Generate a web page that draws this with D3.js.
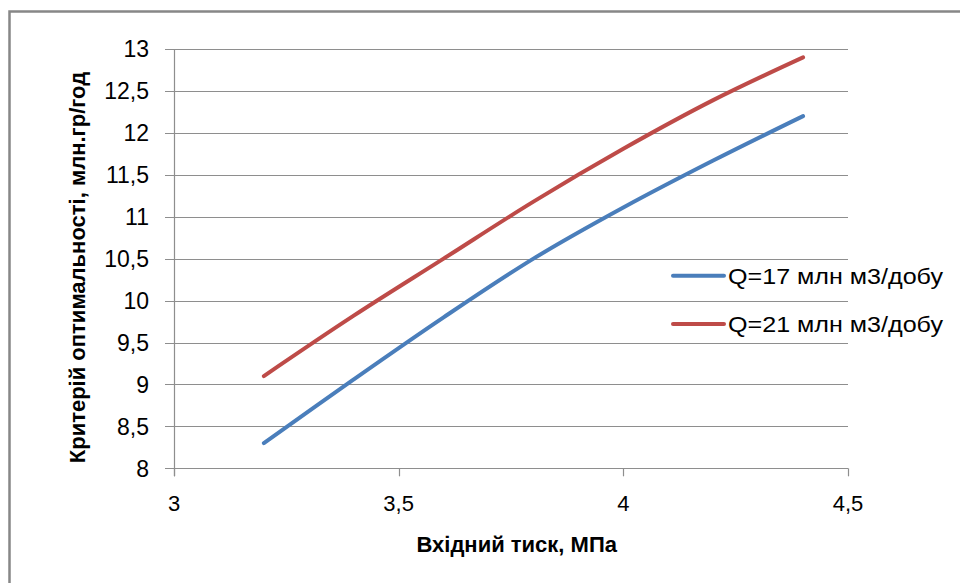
<!DOCTYPE html>
<html>
<head>
<meta charset="utf-8">
<script src="https://cdn.jsdelivr.net/npm/d3@7"></script>
<style>
  html, body { margin: 0; padding: 0; background: #fff; }
  svg { display: block; }
  text { font-family: "Liberation Sans", Arial, sans-serif; fill: #000; }
</style>
</head>
<body>
<svg id="chart" width="960" height="583"></svg>
<script>
const pressure = [3.2, 3.4, 3.6, 3.8, 4.0, 4.2, 4.4];
const q17 = [8.3, 9.06, 9.8, 10.5, 11.11, 11.67, 12.2];
const q21 = [9.1, 9.82, 10.5, 11.18, 11.81, 12.39, 12.9];
const seriesNames = ["Q=17 млн м3/добу", "Q=21 млн м3/добу"];
const seriesColors = ["#4a7ebb", "#be4b48"];
const xTicks = [3, 3.5, 4, 4.5];
const yTicks = [8, 8.5, 9, 9.5, 10, 10.5, 11, 11.5, 12, 12.5, 13];
const xTitle = "Вхідний тиск, МПа";
const yTitle = "Критерій оптимальності, млн.гр/год";

const fmt = v => String(v).replace(".", ",");
const svg = d3.select("#chart");

// outer frame
svg.append("path")
  .attr("d", "M9.5,590 L9.5,11.5 L970,11.5")
  .attr("fill", "none").attr("stroke", "#878787").attr("stroke-width", 2.5);

const x = d3.scaleLinear().domain([3, 4.5]).range([174, 848]);
const y = d3.scaleLinear().domain([8, 13]).range([468.3, 49]);

// horizontal gridlines + y ticks
const gy = svg.append("g");
gy.selectAll("line.grid").data(yTicks).join("line")
  .attr("x1", 165).attr("x2", x(4.5))
  .attr("y1", d => Math.round(y(d)) + 0.5).attr("y2", d => Math.round(y(d)) + 0.5)
  .attr("stroke", "#8e8e8e").attr("stroke-width", 1.2);
gy.selectAll("text").data(yTicks).join("text")
  .attr("x", 149).attr("y", d => y(d))
  .attr("dy", "0.36em")
  .attr("text-anchor", "end")
  .attr("font-size", 23)
  .text(fmt);

// y axis line
svg.append("line")
  .attr("x1", Math.round(x(3)) + 0.5).attr("x2", Math.round(x(3)) + 0.5)
  .attr("y1", y(13)).attr("y2", y(8) + 8)
  .attr("stroke", "#8e8e8e").attr("stroke-width", 1.2);

// x tick marks and labels
const gx = svg.append("g");
gx.selectAll("line").data(xTicks).join("line")
  .attr("x1", d => Math.round(x(d)) + 0.5).attr("x2", d => Math.round(x(d)) + 0.5)
  .attr("y1", y(8)).attr("y2", y(8) + 8)
  .attr("stroke", "#8e8e8e").attr("stroke-width", 1.2);
gx.selectAll("text").data(xTicks).join("text")
  .attr("x", d => x(d)).attr("y", 511)
  .attr("text-anchor", "middle")
  .attr("font-size", 22)
  .text(fmt);

// lines
const line = d3.line()
  .x(d => x(d[0])).y(d => y(d[1]))
  .curve(d3.curveCardinal.tension(0));
[q17, q21].forEach((vals, i) => {
  svg.append("path")
    .datum(pressure.map((p, j) => [p, vals[j]]))
    .attr("d", line)
    .attr("fill", "none")
    .attr("stroke", seriesColors[i])
    .attr("stroke-width", 4)
    .attr("stroke-linecap", "round")
    .attr("stroke-linejoin", "round");
});

// legend
const legY = [275.7, 324];
seriesNames.forEach((name, i) => {
  svg.append("line")
    .attr("x1", 673).attr("x2", 724)
    .attr("y1", legY[i]).attr("y2", legY[i])
    .attr("stroke", seriesColors[i]).attr("stroke-width", 4)
    .attr("stroke-linecap", "round");
  svg.append("text")
    .attr("x", 728).attr("y", legY[i])
    .attr("dy", "0.36em")
    .attr("font-size", 22)
    .attr("textLength", 215)
    .attr("lengthAdjust", "spacingAndGlyphs")
    .text(name);
});

// axis titles
svg.append("text")
  .attr("x", 516.7).attr("y", 551.5)
  .attr("text-anchor", "middle")
  .attr("font-size", 22).attr("font-weight", "bold")
  .text(xTitle);
svg.append("text")
  .attr("transform", "translate(85,267.5) rotate(-90)")
  .attr("text-anchor", "middle")
  .attr("font-size", 22).attr("font-weight", "bold")
  .text(yTitle);
</script>
</body>
</html>
